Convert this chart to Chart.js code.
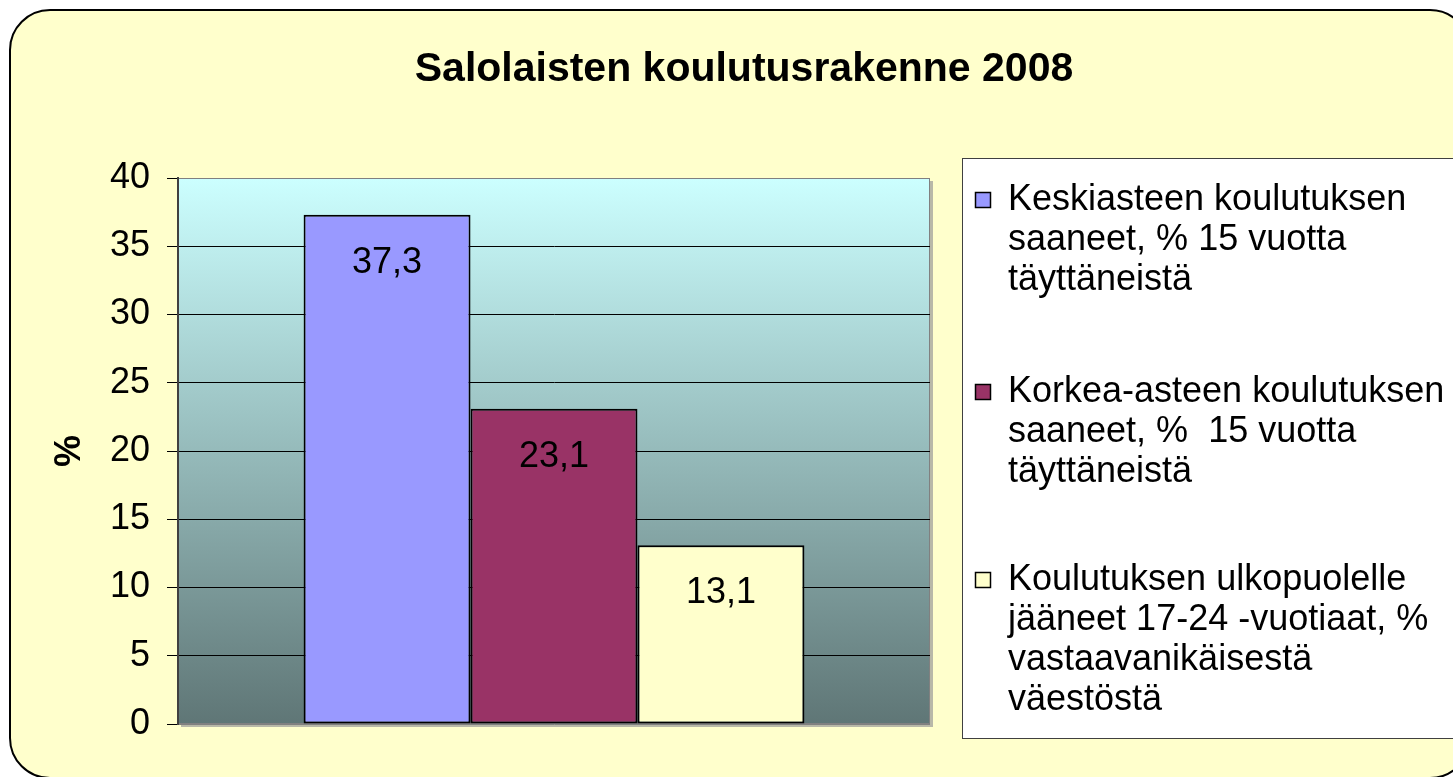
<!DOCTYPE html>
<html>
<head>
<meta charset="utf-8">
<script src="https://cdn.jsdelivr.net/npm/chart.js@4"></script>
<style>
  html, body { margin: 0; padding: 0; background: #ffffff; overflow: hidden; }
  #wrap { width: 1453px; height: 777px; }
</style>
</head>
<body>
<div id="wrap"><canvas id="eduChart" width="1453" height="777"></canvas></div>
<script>
// Data
const categories = ['Salo 2008'];
const seriesLabels = [
    ['Keskiasteen koulutuksen', 'saaneet, % 15 vuotta', 'täyttäneistä'],
    ['Korkea-asteen koulutuksen', 'saaneet, %  15 vuotta', 'täyttäneistä'],
    ['Koulutuksen ulkopuolelle', 'jääneet 17-24 -vuotiaat, %', 'vastaavanikäisestä', 'väestöstä']
];
const secondaryValues = [37.3];
const tertiaryValues = [23.1];
const outsideValues = [13.1];
const yTicks = [0, 5, 10, 15, 20, 25, 30, 35, 40];
const barColors = ['#9999FF', '#993366', '#FFFFCC'];

const FONT = "'Liberation Sans', Arial, sans-serif";

function fmt(v) {
    return v.toFixed(1).replace('.', ',');
}

// Background frame and plot area gradient
const backdrop = {
    id: 'backdrop',
    beforeDraw(chart) {
        const ctx = chart.ctx;
        const a = chart.chartArea;
        ctx.save();
        ctx.fillStyle = '#ffffff';
        ctx.fillRect(0, 0, chart.width, chart.height);

        // rounded frame
        const x = 10, y = 10, w = 1460, h = 768, r = 40;
        ctx.beginPath();
        ctx.moveTo(x + r, y);
        ctx.lineTo(x + w - r, y);
        ctx.arcTo(x + w, y, x + w, y + r, r);
        ctx.lineTo(x + w, y + h - r);
        ctx.arcTo(x + w, y + h, x + w - r, y + h, r);
        ctx.lineTo(x + r, y + h);
        ctx.arcTo(x, y + h, x, y + h - r, r);
        ctx.lineTo(x, y + r);
        ctx.arcTo(x, y, x + r, y, r);
        ctx.closePath();
        ctx.fillStyle = '#FFFFCC';
        ctx.fill();
        ctx.lineWidth = 2;
        ctx.strokeStyle = '#000000';
        ctx.stroke();

        // plot area shadow
        ctx.fillStyle = '#B8B8A8';
        ctx.fillRect(a.left + 3, a.top + 3, a.right - a.left, a.bottom - a.top);

        // plot area gradient
        const g = ctx.createLinearGradient(0, a.top, 0, a.bottom);
        g.addColorStop(0, '#CCFFFF');
        g.addColorStop(1, '#5F7676');
        ctx.fillStyle = g;
        ctx.fillRect(a.left, a.top, a.right - a.left, a.bottom - a.top);
        ctx.strokeStyle = '#808080';
        ctx.lineWidth = 1;
        ctx.strokeRect(a.left + 0.5, a.top + 0.5, a.right - a.left - 1, a.bottom - a.top - 1);
        ctx.restore();
    }
};

// Value labels inside the bars, title and legend
const annotations = {
    id: 'annotations',
    afterDatasetsDraw(chart) {
        const ctx = chart.ctx;
        ctx.save();
        ctx.fillStyle = '#000000';
        ctx.font = '36px ' + FONT;
        ctx.textAlign = 'center';
        ctx.textBaseline = 'middle';
        chart.data.datasets.forEach((ds, i) => {
            const meta = chart.getDatasetMeta(i);
            meta.data.forEach((bar, j) => {
                ctx.fillText(fmt(ds.data[j]), bar.x, bar.y + 48);
            });
        });
        ctx.restore();
    },
    afterDraw(chart) {
        const ctx = chart.ctx;
        ctx.save();

        // title
        ctx.fillStyle = '#000000';
        ctx.font = 'bold 41px ' + FONT;
        ctx.textAlign = 'center';
        ctx.textBaseline = 'middle';
        ctx.fillText('Salolaisten koulutusrakenne 2008', 744, 70);

        // legend box
        ctx.fillStyle = '#ffffff';
        ctx.fillRect(962, 158, 600, 580);
        ctx.strokeStyle = '#404040';
        ctx.lineWidth = 1;
        ctx.strokeRect(962.5, 158.5, 600, 580);

        const starts = [200, 392, 580];
        ctx.font = '36px ' + FONT;
        ctx.textAlign = 'left';
        chart.data.datasets.forEach((ds, i) => {
            const y0 = starts[i];
            ctx.fillStyle = ds.backgroundColor;
            ctx.fillRect(975, y0 - 8, 16, 16);
            ctx.strokeStyle = '#000000';
            ctx.lineWidth = 1.5;
            ctx.strokeRect(975.5, y0 - 7.5, 15, 15);
            ctx.fillStyle = '#000000';
            ds.label.forEach((line, k) => {
                ctx.fillText(line, 1008, y0 + k * 40);
            });
        });
        ctx.restore();
    }
};

const ctx = document.getElementById('eduChart').getContext('2d');
const eduChart = new Chart(ctx, {
    type: 'bar',
    data: {
        labels: categories,
        datasets: [
            { label: seriesLabels[0], data: secondaryValues, backgroundColor: barColors[0] },
            { label: seriesLabels[1], data: tertiaryValues, backgroundColor: barColors[1] },
            { label: seriesLabels[2], data: outsideValues, backgroundColor: barColors[2] }
        ].map(ds => Object.assign(ds, {
            borderColor: '#000000',
            borderWidth: 2,
            borderSkipped: false,
            categoryPercentage: 0.666,
            barPercentage: 1
        }))
    },
    options: {
        responsive: false,
        animation: false,
        layout: {
            padding: { left: 0, top: 178, right: 523, bottom: 53 }
        },
        plugins: {
            legend: { display: false },
            title: { display: false },
            tooltip: { enabled: false }
        },
        scales: {
            x: { display: false },
            y: {
                min: yTicks[0],
                max: yTicks[yTicks.length - 1],
                afterFit(scale) { scale.width = 178; },
                afterBuildTicks(scale) { scale.ticks = yTicks.map(v => ({ value: v })); },
                ticks: {
                    color: '#000000',
                    padding: 17,
                    font: { family: FONT, size: 36 }
                },
                grid: {
                    color: c => (c.tick && (c.tick.value === 40 || c.tick.value === 0)) ? '#808080' : '#000000',
                    tickColor: '#000000',
                    tickLength: 11,
                    lineWidth: 1
                },
                border: { color: '#404040', width: 2 },
                title: {
                    display: true,
                    text: '%',
                    color: '#000000',
                    font: { family: FONT, size: 36, weight: 'bold' },
                    padding: { top: 48, bottom: 0 }
                }
            }
        }
    },
    plugins: [backdrop, annotations]
});
</script>
</body>
</html>
